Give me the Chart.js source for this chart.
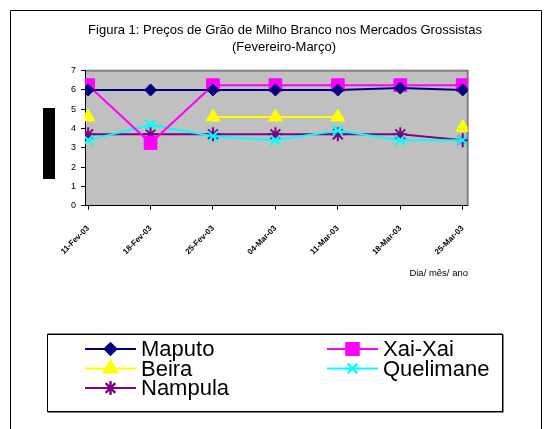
<!DOCTYPE html>
<html>
<head>
<meta charset="utf-8">
<script src="https://cdn.jsdelivr.net/npm/chart.js@4/dist/chart.umd.min.js"></script>
<style>
  html, body { margin: 0; padding: 0; background: #fff; }
  #wrap { width: 551px; height: 429px; position: relative; }
</style>
</head>
<body>
<div id="wrap"><canvas id="chart" width="551" height="429"></canvas></div>
<script>
// Data
var dates = ["11-Fev-03", "18-Fev-03", "25-Fev-03", "04-Mar-03", "11-Mar-03", "18-Mar-03", "25-Mar-03"];
var yTicks = [0, 1, 2, 3, 4, 5, 6, 7];
var maputo = [6, 6, 6, 6, 6, 6.1, 6];
var xaiXai = [6.25, 3.25, 6.25, 6.25, 6.25, 6.25, 6.25];
var beira = [4.6, null, 4.6, 4.6, 4.6, null, 4.05];
var quelimane = [3.4, 4.2, 3.6, 3.4, 3.9, 3.4, 3.4];
var nampula = [3.7, 3.7, 3.7, 3.7, 3.7, 3.7, 3.4];

var titleLines = ["Figura 1: Preços de Grão de Milho Branco nos Mercados Grossistas", "(Fevereiro-Março)"];
var xAxisName = "Dia/ mês/ ano";

function pts(arr) {
    return arr.map(function (v, i) { return { x: i, y: v }; });
}

function serie(label, arr, color, style, radius, bw) {
    return {
        label: label,
        data: pts(arr),
        borderColor: color,
        backgroundColor: color,
        borderWidth: 2,
        pointStyle: style,
        pointRadius: radius,
        pointHoverRadius: radius,
        pointBorderWidth: bw,
        pointBorderColor: color,
        pointBackgroundColor: color,
        tension: 0,
        spanGaps: false
    };
}

// desenho extra: moldura, titulo, fundo cinza, legenda
var extras = {
    id: 'extras',
    beforeDraw: function (chart) {
        var c = chart.ctx, a = chart.chartArea;
        c.save();
        c.fillStyle = '#fff';
        c.fillRect(0, 0, chart.width, chart.height);
        c.strokeStyle = '#000';
        c.lineWidth = 1;
        c.beginPath();
        c.moveTo(10.5, 440); c.lineTo(10.5, 10.5); c.lineTo(541.5, 10.5); c.lineTo(541.5, 440);
        c.stroke();
        c.fillStyle = '#C0C0C0';
        c.fillRect(a.left, a.top, a.right - a.left, a.bottom - a.top);
        c.strokeStyle = '#808080';
        c.lineWidth = 2;
        c.beginPath();
        c.moveTo(a.left, a.top); c.lineTo(a.right, a.top); c.lineTo(a.right, a.bottom);
        c.stroke();
        c.restore();
    },
    afterDraw: function (chart) {
        var c = chart.ctx;
        c.save();
        c.fillStyle = '#000';
        c.textAlign = 'center';
        c.textBaseline = 'middle';
        c.font = '13px "Liberation Sans", Arial, sans-serif';
        c.fillText(titleLines[0], 285, 30);
        c.fillText(titleLines[1], 284, 47);

        // bloco preto do titulo do eixo y
        c.fillRect(43, 108, 12, 71);

        c.font = '9.5px "Liberation Sans", Arial, sans-serif';
        c.textAlign = 'right';
        c.fillText(xAxisName, 468, 273);

        // legenda
        c.strokeStyle = '#000';
        c.lineWidth = 1;
        c.strokeRect(47.5, 334.5, 455, 77);
        c.strokeStyle = '#808080';
        c.beginPath();
        c.moveTo(47.5, 333.5); c.lineTo(502.5, 333.5);
        c.moveTo(47.5, 412.5); c.lineTo(503.5, 412.5); c.lineTo(503.5, 334.5);
        c.stroke();
        var pos = [[85, 349], [327, 349], [85, 368.5], [327, 368.5], [85, 388]];
        c.font = '22px "Liberation Sans", Arial, sans-serif';
        c.textAlign = 'left';
        chart.data.datasets.forEach(function (ds, i) {
            var x = pos[i][0], y = pos[i][1];
            c.strokeStyle = ds.borderColor;
            c.lineWidth = 2;
            c.beginPath();
            c.moveTo(x, y); c.lineTo(x + 51, y);
            c.stroke();
            Chart.helpers.drawPoint(c, {
                pointStyle: ds.pointStyle,
                radius: ds.pointRadius * 0.95,
                borderWidth: ds.pointBorderWidth,
                rotation: 0
            }, x + 25.5, y);
            c.fillStyle = ds.borderColor;
            c.fill();
            c.stroke();
            c.fillStyle = '#000';
            c.fillText(ds.label, x + 56, y + 1);
        });
        c.restore();
    }
};

var ctx = document.getElementById("chart");

var chartGraph = new Chart(ctx, {
    type: 'line',
    data: {
        datasets: [
            serie("Maputo", maputo, '#000080', 'rectRot', 6, 1),
            serie("Xai-Xai", xaiXai, '#FF00FF', 'rect', 9, 1),
            serie("Beira", beira, '#FFFF00', 'triangle', 8, 1),
            serie("Quelimane", quelimane, '#00FFFF', 'crossRot', 7, 2),
            serie("Nampula", nampula, '#800080', 'star', 7, 2)
        ]
    },
    options: {
        responsive: false,
        animation: false,
        layout: { padding: { left: 65, top: 70.7, right: 83.3, bottom: 163.3 } },
        plugins: { legend: { display: false }, title: { display: false }, tooltip: { enabled: false } },
        scales: {
            x: {
                type: 'linear',
                min: -0.05,
                max: 6.08,
                afterBuildTicks: function (s) {
                    s.ticks = dates.map(function (d, i) { return { value: i }; });
                },
                afterFit: function (s) { s.height = 60; },
                grid: { drawOnChartArea: false, drawTicks: true, tickLength: 4, color: '#000' },
                border: { display: true, color: '#000', width: 1 },
                ticks: {
                    autoSkip: false,
                    minRotation: 45,
                    maxRotation: 45,
                    padding: 14,
                    color: '#000',
                    font: { family: '"Liberation Sans", Arial, sans-serif', size: 8, weight: 'bold' },
                    callback: function (v) { return dates[v]; }
                }
            },
            y: {
                min: 0,
                max: 7,
                afterBuildTicks: function (s) {
                    s.ticks = yTicks.map(function (v) { return { value: v }; });
                },
                afterFit: function (s) { s.width = 20; },
                grid: { drawOnChartArea: false, drawTicks: true, tickLength: 4, color: '#000' },
                border: { display: true, color: '#000', width: 1 },
                ticks: {
                    padding: 5,
                    color: '#000',
                    font: { family: '"Liberation Sans", Arial, sans-serif', size: 9 }
                }
            }
        }
    },
    plugins: [extras]
});
</script>
</body>
</html>
